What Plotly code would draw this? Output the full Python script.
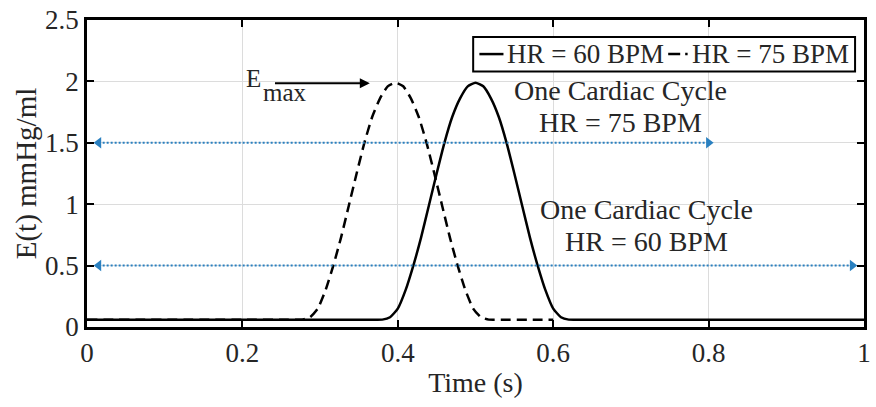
import plotly.graph_objects as go

# ---- data ----
t_60 = [0.0, 0.30, 0.36, 0.38, 0.39, 0.40, 0.41, 0.42, 0.43, 0.44, 0.45, 0.46, 0.47, 0.48, 0.49, 0.50,
        0.51, 0.52, 0.53, 0.54, 0.55, 0.56, 0.57, 0.58, 0.59, 0.60, 0.61, 0.62, 0.64, 0.70, 1.0]
e_60 = [0.06, 0.06, 0.06, 0.06, 0.08, 0.15, 0.30, 0.50, 0.73, 0.99, 1.25, 1.50, 1.71, 1.86, 1.96, 1.99,
        1.96, 1.86, 1.71, 1.50, 1.25, 0.99, 0.73, 0.50, 0.30, 0.15, 0.08, 0.06, 0.06, 0.06, 0.06]

t_75 = [0.0, 0.20, 0.257, 0.277, 0.287, 0.297, 0.307, 0.317, 0.327, 0.337, 0.347, 0.357, 0.367, 0.377,
        0.387, 0.397, 0.407, 0.417, 0.427, 0.437, 0.447, 0.457, 0.467, 0.477, 0.487, 0.497, 0.507,
        0.517, 0.537, 0.57, 0.60]
e_75 = [0.06, 0.06, 0.06, 0.06, 0.08, 0.15, 0.30, 0.50, 0.73, 0.99, 1.25, 1.50, 1.71, 1.86,
        1.96, 1.99, 1.96, 1.86, 1.71, 1.50, 1.25, 0.99, 0.73, 0.50, 0.30, 0.15, 0.08,
        0.06, 0.06, 0.06, 0.06]

series_names = ["HR = 60 BPM", "HR = 75 BPM"]

cycle_75_x = [0.015, 0.80]
cycle_75_y = [1.5, 1.5]
cycle_60_x = [0.015, 0.985]
cycle_60_y = [0.5, 0.5]

x_ticks = [0, 0.2, 0.4, 0.6, 0.8, 1]
y_ticks = [0, 0.5, 1, 1.5, 2, 2.5]

FONT = "Liberation Serif"
TXT = "#262626"
BLUE = "#2a80c0"
DASH = "10px,6px"

fig = go.Figure()

fig.add_trace(go.Scatter(x=t_75, y=e_75, mode="lines", name=series_names[1], showlegend=False,
                         line=dict(color="black", width=2.5, dash=DASH, shape="spline", smoothing=0.5)))
fig.add_trace(go.Scatter(x=t_60, y=e_60, mode="lines", name=series_names[0], showlegend=False,
                         line=dict(color="black", width=2.5, shape="spline", smoothing=0.5)))

for xs, ys in [(cycle_75_x, cycle_75_y), (cycle_60_x, cycle_60_y)]:
    fig.add_trace(go.Scatter(x=xs, y=ys, mode="lines", showlegend=False, hoverinfo="skip",
                             line=dict(color=BLUE, width=2, dash="2px,2px")))
    fig.add_trace(go.Scatter(x=xs, y=ys, mode="markers", showlegend=False, hoverinfo="skip",
                             marker=dict(symbol=["triangle-left", "triangle-right"], size=10,
                                         color=BLUE, line=dict(width=0))))

# E_max arrow and label
fig.add_annotation(x=0.364, y=1.985, ax=0.24, ay=1.985, axref="x", ayref="y", xref="x", yref="y",
                   text="", showarrow=True, arrowhead=2, arrowsize=1, arrowwidth=2, arrowcolor="black")
fig.add_annotation(x=0.2146, y=2.02, xref="x", yref="y", text="E", showarrow=False,
                   font=dict(family=FONT, size=25, color=TXT))
fig.add_annotation(x=0.2554, y=1.91, xref="x", yref="y", text="max", showarrow=False,
                   font=dict(family=FONT, size=25, color=TXT))

labels = [(0.687, 1.93, "One Cardiac Cycle"), (0.687, 1.665, "HR = 75 BPM"),
          (0.720, 0.96, "One Cardiac Cycle"), (0.720, 0.695, "HR = 60 BPM")]
for lx, ly, lt in labels:
    fig.add_annotation(x=lx, y=ly, xref="x", yref="y", text=lt, showarrow=False,
                       font=dict(family=FONT, size=28, color=TXT))

# legend box (compact, boxed, top right as in the reference)
fig.add_shape(type="rect", xref="paper", yref="paper", x0=0.497, x1=0.9885, y0=0.832, y1=0.945,
              line=dict(color="black", width=2), fillcolor="white", layer="above")
fig.add_shape(type="line", xref="paper", yref="paper", x0=0.505, x1=0.536, y0=0.889, y1=0.889,
              line=dict(color="black", width=2.5), layer="above")
fig.add_shape(type="line", xref="paper", yref="paper", x0=0.748, x1=0.773, y0=0.889, y1=0.889,
              line=dict(color="black", width=2.5, dash="12px,5px"), layer="above")
fig.add_annotation(x=0.538, y=0.889, xref="paper", yref="paper", xanchor="left", yanchor="middle",
                   text=series_names[0], showarrow=False, font=dict(family=FONT, size=27, color=TXT))
fig.add_annotation(x=0.7755, y=0.889, xref="paper", yref="paper", xanchor="left", yanchor="middle",
                   text=series_names[1], showarrow=False, font=dict(family=FONT, size=27, color=TXT))

fig.update_layout(
    width=876, height=407,
    margin=dict(l=87, r=5, t=18, b=80),
    paper_bgcolor="white", plot_bgcolor="white",
    font=dict(family=FONT, size=27, color=TXT),
    showlegend=False,
)
fig.update_xaxes(range=[0, 1], tickvals=x_ticks, ticktext=[str(v) for v in x_ticks],
                 tickfont=dict(family=FONT, size=27, color=TXT),
                 showgrid=True, gridcolor="#dcdcdc", gridwidth=1, zeroline=False,
                 showline=True, linecolor="black", linewidth=2.5, mirror="ticks",
                 ticks="inside", ticklen=7, tickwidth=1.5, tickcolor="black",
                 title=dict(text="Time (s)", font=dict(family=FONT, size=28, color=TXT), standoff=6))
fig.update_yaxes(range=[0, 2.5], tickvals=y_ticks, ticktext=[str(v) for v in y_ticks],
                 tickfont=dict(family=FONT, size=27, color=TXT),
                 showgrid=True, gridcolor="#dcdcdc", gridwidth=1, zeroline=False,
                 showline=True, linecolor="black", linewidth=2.5, mirror="ticks",
                 ticks="inside", ticklen=7, tickwidth=1.5, tickcolor="black",
                 title=dict(text="E(t) mmHg/ml", font=dict(family=FONT, size=29, color=TXT), standoff=0))

fig.write_html("out.html")
